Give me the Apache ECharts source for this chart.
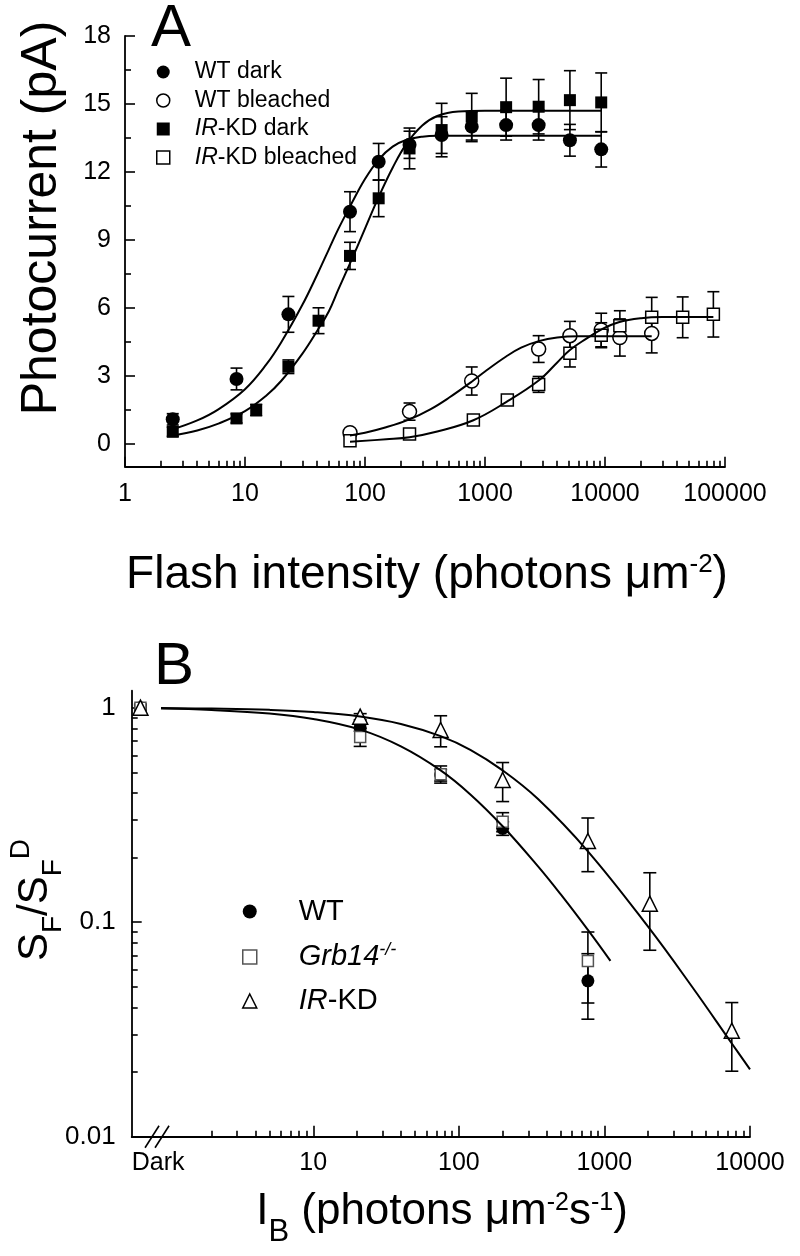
<!DOCTYPE html>
<html>
<head>
<meta charset="utf-8">
<title>Photocurrent and flash sensitivity</title>
<script src="https://cdn.jsdelivr.net/npm/echarts@6.0.0/dist/echarts.min.js"></script>
<style>
  html, body { margin: 0; padding: 0; background: #fff; }
  #chart { width: 800px; height: 1256px; }
</style>
</head>
<body>
<div id="chart"></div>
<script>
// ---------- Panel A: photocurrent vs flash intensity ----------
const wtDarkX = [2.5, 8.5, 23, 75, 130, 235, 435, 775, 1500, 2800, 5100, 9300];
const wtDarkY = [1.09, 2.87, 5.72, 10.25, 12.45, 13.2, 13.63, 14.0, 14.07, 14.07, 13.4, 13.0];
const wtDarkErr = [0.25, 0.48, 0.79, 0.88, 0.81, 0.6, 0.81, 0.66, 0.66, 0.66, 0.7, 0.78];

const irDarkX = [2.5, 8.5, 12.4, 23, 41, 75, 130, 235, 435, 775, 1500, 2800, 5100, 9300];
const irDarkY = [0.54, 1.13, 1.5, 3.41, 5.44, 8.3, 10.84, 13.04, 13.85, 14.44, 14.86, 14.88, 15.17, 15.07];
const irDarkErr = [0.2, 0.2, 0.25, 0.3, 0.57, 0.6, 0.81, 0.9, 1.18, 1.03, 1.28, 1.2, 1.3, 1.3];

const wtBlX = [75, 235, 775, 2800, 5100, 9300, 13300, 24500];
const wtBlY = [0.5, 1.43, 2.78, 4.19, 4.78, 5.03, 4.7, 4.88];
const wtBlErr = [0.15, 0.38, 0.62, 0.59, 0.63, 0.74, 0.82, 0.86];

const irBlX = [75, 235, 800, 1535, 2800, 5100, 9300, 13300, 24500, 44400, 80000];
const irBlY = [0.15, 0.44, 1.06, 1.94, 2.63, 4.0, 4.8, 5.22, 5.59, 5.59, 5.72];
const irBlErr = [0.1, 0.15, 0.15, 0.2, 0.35, 0.6, 0.55, 0.66, 0.88, 0.9, 1.0];

// fitted curves
const fitDarkX = [2.5, 4, 6, 10, 15, 20, 30, 40, 50, 60, 75, 100, 130, 170, 220, 300, 400, 600, 1000, 3000, 9300];
const fitWtDark = [0.65, 1.04, 1.53, 2.42, 3.5, 4.48, 6.13, 7.48, 8.59, 9.49, 10.48, 11.69, 12.55, 13.12, 13.41, 13.56, 13.6, 13.6, 13.6, 13.6, 13.6];
const fitIrDark = [0.38, 0.6, 0.9, 1.45, 2.13, 2.78, 3.98, 5.0, 5.86, 6.82, 7.97, 9.5, 10.9, 12.19, 13.22, 14.05, 14.47, 14.67, 14.7, 14.7, 14.7];
const fitWtBlX = [75, 100, 150, 235, 350, 500, 775, 1000, 1500, 2000, 2800, 4000, 6000, 10000, 24500];
const fitWtBl = [0.38, 0.5, 0.74, 1.09, 1.53, 2.04, 2.75, 3.2, 3.86, 4.25, 4.54, 4.7, 4.75, 4.75, 4.75];
const fitIrBlX = [75, 150, 235, 400, 800, 1500, 2800, 4000, 5100, 7000, 9300, 13000, 20000, 30000, 80000];
const fitIrBl = [0.1, 0.21, 0.3, 0.55, 1.05, 1.85, 2.8, 3.6, 4.15, 4.65, 5.05, 5.37, 5.55, 5.6, 5.6];

// ---------- Panel B: relative sensitivity vs background ----------
const DARK_X = 0.65; // where the "Dark" points sit on the log axis
const bX = [DARK_X, 21, 75, 200, 770];
const wtB = [1.0, 0.807, 0.485, 0.274, 0.0533];
const wtBErr = [0.02, 0.03, 0.03, 0.02, 0.018];
const grbB = [1.0, 0.73, 0.49, 0.294, 0.066];
const grbBErr = [0.03, 0.07, 0.045, 0.03, 0.024];
const irBX = [DARK_X, 21, 75, 200, 770, 2050, 7500];
const irB = [1.0, 0.908, 0.787, 0.46, 0.239, 0.122, 0.0312];
const irBErr = [0.04, 0.03, 0.13, 0.095, 0.067, 0.048, 0.011];

const fitBX1 = [0.9, 2, 5, 10, 21, 40, 75, 120, 200, 350, 500, 770, 1100];
const fitWtB = [0.99, 0.975, 0.94, 0.886, 0.79, 0.66, 0.51, 0.394, 0.28, 0.182, 0.135, 0.092, 0.066];
const fitBX2 = [0.9, 2, 5, 10, 21, 40, 75, 120, 200, 350, 770, 2000, 4000, 7500, 10000];
const fitIrB = [0.996, 0.99, 0.977, 0.955, 0.91, 0.84, 0.737, 0.636, 0.51, 0.375, 0.214, 0.095, 0.05, 0.0272, 0.0206];

// tick labels
const yTicksA = [0, 3, 6, 9, 12, 15, 18];
const yMinorA = [1.5, 4.5, 7.5, 10.5, 13.5, 16.5];
const xDecadesA = [1, 10, 100, 1000, 10000, 100000];
const xDecadesB = [10, 100, 1000, 10000];
const yDecadesB = [0.01, 0.1, 1];

const FONT = '"Liberation Sans", Arial, sans-serif';
const BLACK = '#000';

const zip = (xs, ys, es) => xs.map((x, i) => es ? [x, ys[i], es[i]] : [x, ys[i]]);
const log10 = v => Math.log10(v);
const minorLogs = (from, to) => {
  const out = [];
  for (let d = from; d < to; d++) for (let m = 2; m <= 9; m++) out.push(log10(m * Math.pow(10, d)));
  return out;
};

function errorBars(capHalf) {
  return function (params, api) {
    const x = api.value(0), y = api.value(1), e = api.value(2);
    const top = api.coord([x, y + e]);
    const bot = api.coord([x, y - e]);
    const style = { stroke: BLACK, lineWidth: 1.6 };
    return {
      type: 'group',
      children: [
        { type: 'line', shape: { x1: top[0], y1: top[1], x2: bot[0], y2: bot[1] }, style },
        { type: 'line', shape: { x1: top[0] - capHalf, y1: top[1], x2: top[0] + capHalf, y2: top[1] }, style },
        { type: 'line', shape: { x1: bot[0] - capHalf, y1: bot[1], x2: bot[0] + capHalf, y2: bot[1] }, style }
      ]
    };
  };
}

const lineStyle = { color: BLACK, width: 1.6 };
const hidden = { show: false };

function dataAxis(type, grid, min, max, position) {
  return {
    type, gridIndex: grid, min, max, position,
    axisLine: { onZero: false, lineStyle: { color: BLACK, width: 1.8 } },
    axisTick: hidden, axisLabel: hidden, splitLine: hidden
  };
}
function tickAxis(grid, min, max, position, ticks, len, labels, fontSize, margin, fmt) {
  return {
    type: 'value', gridIndex: grid, min, max, position,
    axisLine: { show: false, onZero: false },
    axisTick: { inside: true, length: len, customValues: ticks, lineStyle },
    axisLabel: labels ? {
      customValues: labels, formatter: fmt, fontSize, margin,
      color: BLACK, fontFamily: FONT
    } : hidden,
    splitLine: hidden
  };
}
const decadeFmt = v => String(+Math.pow(10, v).toFixed(2));

const xMinB = 0.566, yMaxB = 1.2;
const darkLabelPos = log10(0.86);

const errA = errorBars(6), errB = errorBars(6.5);
function errSeries(data, xi, yi, render) {
  return { type: 'custom', xAxisIndex: xi, yAxisIndex: yi, renderItem: render, data,
    encode: { x: 0, y: 1 }, z: 2, silent: true };
}
function pts(name, data, xi, yi, symbol, size, filled, border) {
  return {
    name, type: 'scatter', xAxisIndex: xi, yAxisIndex: yi, data, symbol, symbolSize: size, z: 3,
    itemStyle: filled
      ? { color: BLACK, opacity: 1 }
      : { color: '#fff', borderColor: border || BLACK, borderWidth: 1.5, opacity: 1 }
  };
}
function fit(data, xi, yi) {
  return { type: 'line', xAxisIndex: xi, yAxisIndex: yi, data, showSymbol: false, smooth: 0.4,
    lineStyle: { color: BLACK, width: 2 }, z: 4, silent: true };
}

const legendFmt = name => {
  if (name.startsWith('IR')) return '{i|IR}{n|' + name.slice(2) + '}';
  if (name.startsWith('Grb14')) return '{i|Grb14}{sup|-/-}';
  return '{n|' + name + '}';
};

const chart = echarts.init(document.getElementById('chart'), null, { renderer: 'canvas' });

const option = {
  animation: false,
  backgroundColor: '#fff',
  textStyle: { fontFamily: FONT, color: BLACK },
  grid: [
    { left: 125, top: 36, width: 600, height: 430.7, containLabel: false, outerBoundsMode: 'none' },
    { left: 131.7, top: 690.7, width: 618.3, height: 446, containLabel: false, outerBoundsMode: 'none' }
  ],
  xAxis: [
    dataAxis('log', 0, 1, 100000, 'bottom'),
    tickAxis(0, 0, 5, 'bottom', xDecadesA.map(log10), 10, xDecadesA.map(log10), 25, 15, decadeFmt),
    tickAxis(0, 0, 5, 'bottom', minorLogs(0, 5), 6),
    dataAxis('log', 1, xMinB, 10000, 'bottom'),
    tickAxis(1, log10(xMinB), 4, 'bottom', xDecadesB.map(log10), 11, [darkLabelPos].concat(xDecadesB.map(log10)), 25, 14,
      v => v < 0 ? 'Dark' : decadeFmt(v)),
    tickAxis(1, log10(xMinB), 4, 'bottom', minorLogs(0, 4), 6)
  ],
  yAxis: [
    Object.assign(dataAxis('value', 0, -1, 18, 'left'), {
      axisTick: { inside: true, length: 10, customValues: yTicksA, lineStyle },
      axisLabel: { customValues: yTicksA, fontSize: 25, margin: 14, color: BLACK, fontFamily: FONT }
    }),
    tickAxis(0, -1, 18, 'left', yMinorA, 6),
    dataAxis('log', 1, 0.01, yMaxB, 'left'),
    tickAxis(1, -2, log10(yMaxB), 'left', yDecadesB.map(log10), 10, yDecadesB.map(log10), 26, 16, decadeFmt),
    tickAxis(1, -2, log10(yMaxB), 'left', minorLogs(-2, 0), 6)
  ],
  legend: [
    {
      left: 156, top: 60.5, padding: 0, orient: 'vertical', itemGap: 5.5, itemWidth: 13, itemHeight: 13,
      selectedMode: false, data: ['WT dark', 'WT bleached', 'IR-KD dark', 'IR-KD bleached'],
      formatter: legendFmt, itemStyle: { borderWidth: 1.5 },
      textStyle: {
        padding: [0, 0, 0, 20], color: BLACK,
        rich: {
          n: { fontSize: 23, fontFamily: FONT },
          i: { fontSize: 23, fontFamily: FONT, fontStyle: 'italic' }
        }
      }
    },
    {
      left: 242, top: 897, padding: 0, orient: 'vertical', itemGap: 15, itemWidth: 14, itemHeight: 14,
      selectedMode: false, data: ['WT', 'Grb14-/-', 'IR-KD'],
      formatter: legendFmt, itemStyle: { borderWidth: 1.5 },
      textStyle: {
        padding: [0, 0, 0, 37], color: BLACK,
        rich: {
          n: { fontSize: 29, fontFamily: FONT, lineHeight: 32 },
          i: { fontSize: 29, fontFamily: FONT, fontStyle: 'italic', lineHeight: 32 },
          sup: { fontSize: 18, fontFamily: FONT, fontStyle: 'italic', verticalAlign: 'top', lineHeight: 22 }
        }
      }
    }
  ],
  graphic: [
    { type: 'text', x: 171, y: 29, style: { text: 'A', font: '60px ' + FONT, fill: BLACK, align: 'center', verticalAlign: 'middle' } },
    { type: 'text', x: 174, y: 667, style: { text: 'B', font: '60px ' + FONT, fill: BLACK, align: 'center', verticalAlign: 'middle' } },
    {
      type: 'text', x: 427, y: 575,
      style: {
        text: 'Flash intensity (photons \u03bcm{sup|-2})', font: '46px ' + FONT, fill: BLACK,
        align: 'center', verticalAlign: 'middle',
        rich: { sup: { fontSize: 26, fontFamily: FONT, verticalAlign: 'top' } }
      }
    },
    {
      type: 'text', x: 42, y: 218, rotation: Math.PI / 2,
      style: { text: 'Photocurrent (pA)', font: '50px ' + FONT, fill: BLACK, align: 'center', verticalAlign: 'middle' }
    },
    {
      type: 'text', x: 442, y: 1212,
      style: {
        text: 'I{sub|B} (photons \u03bcm{sup|-2}s{sup|-1})', font: '44px ' + FONT, fill: BLACK,
        align: 'center', verticalAlign: 'middle',
        rich: {
          sub: { fontSize: 31, fontFamily: FONT, verticalAlign: 'bottom', padding: [40, 0, 0, 0] },
          sup: { fontSize: 25, fontFamily: FONT, verticalAlign: 'top', padding: [14, 0, 0, 0] }
        }
      }
    },
    {
      type: 'text', x: 35, y: 900, rotation: Math.PI / 2,
      style: {
        text: 'S{sub|F}/S{sub|F}{sup|D}', font: '42px ' + FONT, fill: BLACK,
        align: 'center', verticalAlign: 'middle',
        rich: {
          sub: { fontSize: 28, fontFamily: FONT, verticalAlign: 'bottom', padding: [36, 0, 0, 0] },
          sup: { fontSize: 28, fontFamily: FONT, verticalAlign: 'top', padding: [4, 0, 0, 0] }
        }
      }
    }
  ],
  series: [
    // panel A
    errSeries(zip(wtDarkX, wtDarkY, wtDarkErr), 0, 0, errA),
    errSeries(zip(irDarkX, irDarkY, irDarkErr), 0, 0, errA),
    errSeries(zip(wtBlX, wtBlY, wtBlErr), 0, 0, errA),
    errSeries(zip(irBlX, irBlY, irBlErr), 0, 0, errA),
    pts('WT dark', zip(wtDarkX, wtDarkY), 0, 0, 'circle', 14, true),
    pts('WT bleached', zip(wtBlX, wtBlY), 0, 0, 'circle', 14, false),
    pts('IR-KD dark', zip(irDarkX, irDarkY), 0, 0, 'rect', 12, true),
    pts('IR-KD bleached', zip(irBlX, irBlY), 0, 0, 'rect', 12, false),
    fit(zip(fitDarkX, fitWtDark), 0, 0),
    fit(zip(fitDarkX, fitIrDark), 0, 0),
    fit(zip(fitWtBlX, fitWtBl), 0, 0),
    fit(zip(fitIrBlX, fitIrBl), 0, 0),
    // panel B
    errSeries(zip(bX, wtB, wtBErr), 3, 2, errB),
    errSeries(zip(bX, grbB, grbBErr), 3, 2, errB),
    errSeries(zip(irBX, irB, irBErr), 3, 2, errB),
    pts('WT', zip(bX, wtB), 3, 2, 'circle', 13, true),
    pts('Grb14-/-', zip(bX, grbB), 3, 2, 'rect', 11, false, '#555'),
    pts('IR-KD', zip(irBX, irB), 3, 2, 'triangle', 15, false),
    fit(zip(fitBX1, fitWtB), 3, 2),
    fit(zip(fitBX2, fitIrB), 3, 2)
  ]
};

chart.setOption(option);

// axis break mark "//" next to the Dark points
const bx = chart.convertToPixel({ xAxisIndex: 3 }, 0.845);
const by = chart.convertToPixel({ yAxisIndex: 2 }, 0.01);
const slash = dx => ({
  type: 'line', shape: { x1: bx + dx - 7, y1: by + 11, x2: bx + dx + 7, y2: by - 11 },
  style: { stroke: BLACK, lineWidth: 1.6 }
});
option.graphic.push(slash(-5), slash(5));
chart.setOption({ graphic: option.graphic });

window.addEventListener('resize', () => chart.resize());
</script>
</body>
</html>
